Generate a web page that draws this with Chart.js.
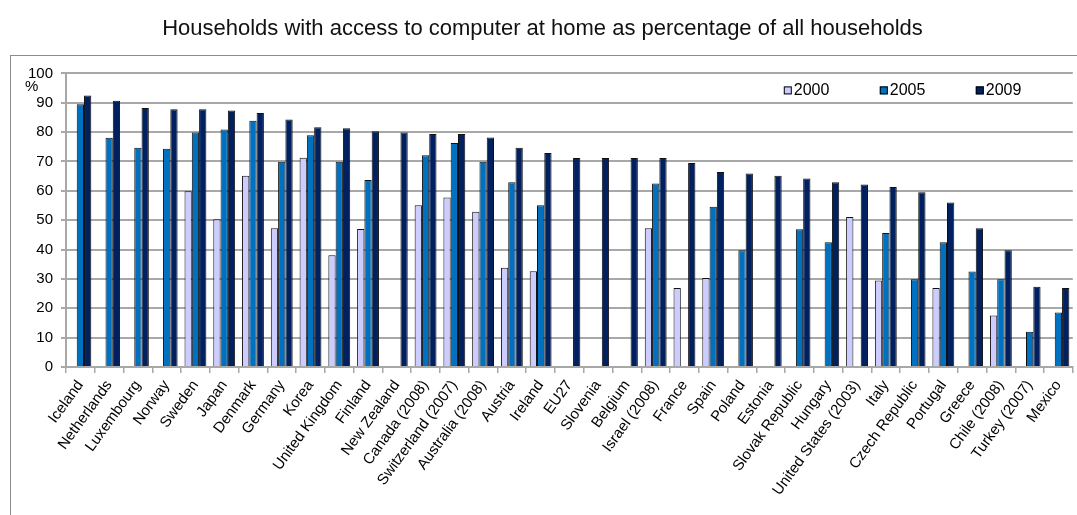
<!DOCTYPE html>
<html>
<head>
<meta charset="utf-8">
<title>Households with access to computer at home</title>
<script src="https://cdn.jsdelivr.net/npm/chart.js@4.4.1/dist/chart.umd.min.js"></script>
<style>
  html, body { margin: 0; padding: 0; background: #fff; }
  canvas { display: block; }
</style>
</head>
<body>
<canvas id="myChart" width="1077" height="515"></canvas>
<script>
const countries = [
  "Iceland", "Netherlands", "Luxembourg", "Norway", "Sweden", "Japan", "Denmark",
  "Germany", "Korea", "United Kingdom", "Finland", "New Zealand", "Canada (2008)",
  "Switzerland (2007)", "Australia (2008)", "Austria", "Ireland", "EU27", "Slovenia",
  "Belgium", "Israel (2008)", "France", "Spain", "Poland", "Estonia", "Slovak Republic",
  "Hungary", "United States (2003)", "Italy", "Czech Republic", "Portugal", "Greece",
  "Chile (2008)", "Turkey (2007)", "Mexico",
];

const v2000 = [
  null, null, null, null, 59.9, 50.3, 65.1, 47.3, 71.3, 38.1, 47.0, null, 55.1,
  57.7, 52.9, 33.8, 32.6, null, null, null, 47.3, 26.9, 30.3, null, null, null,
  null, 51.1, 29.5, null, 26.9, null, 17.5, null, null,
];

const v2005 = [
  89.5, 78.1, 74.7, 74.3, 79.9, 80.9, 83.9, 69.9, 78.9, 69.9, 63.7, null, 72.1,
  76.3, 69.9, 62.9, 55.1, null, null, null, 62.5, null, 54.6, 39.8, null, 46.9,
  42.5, null, 45.6, 29.9, 42.5, 32.5, 29.9, 12.0, 18.6,
];

const v2009 = [
  92.5, 90.7, 88.2, 87.8, 87.8, 87.4, 86.5, 84.3, 81.7, 81.3, 80.3, 79.9, 79.4,
  79.4, 78.2, 74.7, 72.9, 71.2, 71.2, 71.2, 71.2, 69.5, 66.4, 65.9, 65.1, 64.2,
  62.9, 62.2, 61.3, 59.5, 56.0, 47.3, 39.8, 27.3, 26.9,
];

const FONT = "'Liberation Sans', Arial, sans-serif";
const GRID = '#a8a8a8';

// grey frame round the plot, like the spreadsheet chart border
const frame = {
  id: 'frame',
  beforeDraw(chart) {
    const { ctx, width, height } = chart;
    ctx.save();
    ctx.strokeStyle = '#8c8c8c';
    ctx.lineWidth = 1;
    ctx.strokeRect(10.5, 55.5, width + 10, height + 10);
    ctx.restore();
  }
};

// legend drawn inside the plot area, top right, plus the "%" unit label
const innerLegend = {
  id: 'innerLegend',
  afterDraw(chart) {
    const { ctx, chartArea } = chart;
    ctx.save();
    ctx.font = '16px ' + FONT;
    ctx.textBaseline = 'middle';
    ctx.textAlign = 'left';
    const y = chartArea.top + 17;
    let x = chartArea.right - 289;
    chart.data.datasets.forEach((ds) => {
      ctx.fillStyle = ds.backgroundColor;
      ctx.fillRect(x, y - 4, 8, 8);
      ctx.strokeStyle = '#000';
      ctx.lineWidth = 1;
      ctx.strokeRect(x + 0.5, y - 3.5, 7, 7);
      ctx.fillStyle = '#000';
      ctx.fillText(ds.label, x + 10, y);
      x += 96;
    });

    ctx.font = '15px ' + FONT;
    ctx.fillText('%', chartArea.left - 41, chartArea.top + 13);
    ctx.restore();
  }
};

const ctx = document.getElementById("myChart");

const myChart = new Chart(ctx, {
  type: "bar",
  plugins: [frame, innerLegend],
  data: {
    labels: countries,
    datasets: [
      {
        label: "2000",
        data: v2000,
        backgroundColor: "#CCCCFF",
        borderColor: "#111",
        borderWidth: 1,
      },
      {
        label: "2005",
        data: v2005,
        backgroundColor: "#0070C0",
        borderColor: "#111",
        borderWidth: 1,
      },
      {
        label: "2009",
        data: v2009,
        backgroundColor: "#002060",
        borderColor: "#111",
        borderWidth: 1,
      },
    ],
  },
  options: {
    responsive: false,
    animation: false,
    categoryPercentage: 0.76,
    barPercentage: 1.0,
    layout: {
      padding: { left: 10, right: 2, top: 0, bottom: 0 },
    },
    plugins: {
      title: {
        display: true,
        text: "Households with access to computer at home as percentage of all households",
        color: "#111",
        font: { family: FONT, size: 22, weight: 'normal' },
        padding: { top: 16, bottom: 31 },
      },
      legend: { display: false },
      tooltip: { enabled: false },
    },
    scales: {
      y: {
        min: 0,
        max: 100,
        afterFit(scale) { scale.width = 56; },
        ticks: {
          stepSize: 10,
          color: '#000',
          padding: 8,
          font: { family: FONT, size: 15 },
        },
        grid: {
          color: GRID,
          lineWidth: 2,
          tickLength: 5,
        },
        border: { color: GRID, width: 2 },
      },
      x: {
        afterFit(scale) { scale.height = 148; },
        ticks: {
          autoSkip: false,
          minRotation: 54,
          maxRotation: 54,
          color: '#000',
          padding: 4,
          font: { family: FONT, size: 15 },
        },
        grid: {
          drawOnChartArea: false,
          color: GRID,
          lineWidth: 1.5,
          tickLength: 6,
        },
        border: { color: GRID, width: 2 },
      },
    },
  },
});
</script>
</body>
</html>
